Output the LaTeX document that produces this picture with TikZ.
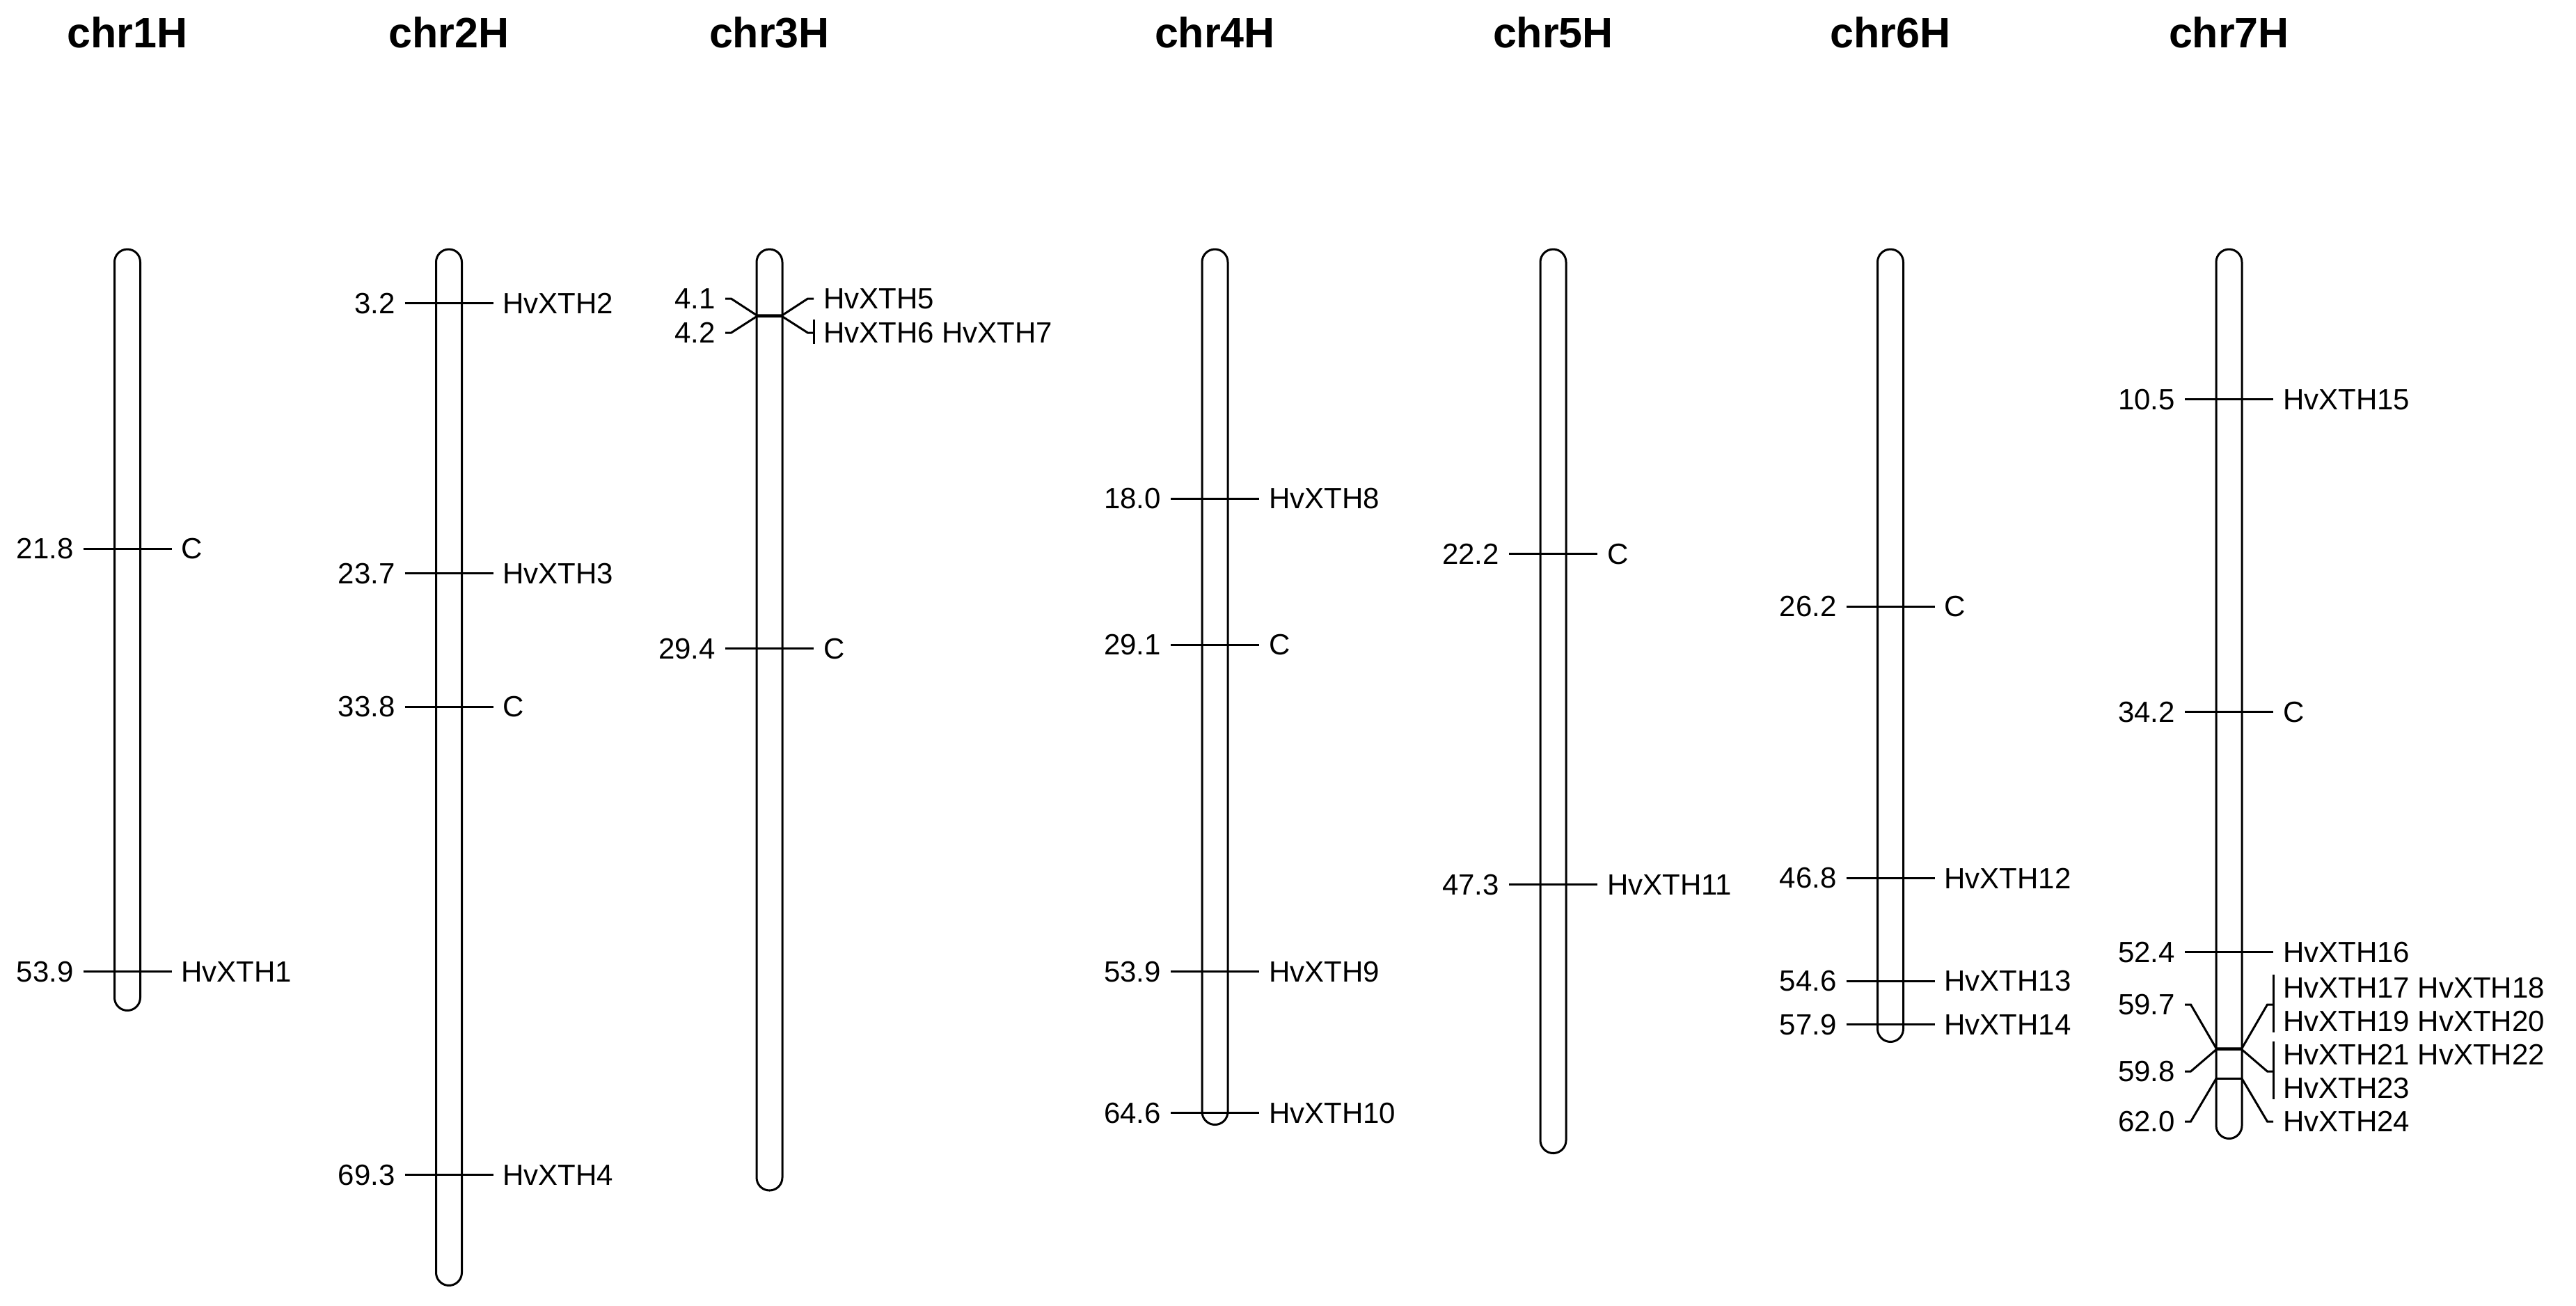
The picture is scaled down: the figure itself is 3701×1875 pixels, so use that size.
\documentclass[tikz,border=0pt]{standalone}
\usepackage{fontspec}
\setmainfont{Liberation Sans}
\newcommand{\chrmark}[5]{% name, cx, cM, left text, right text
  \path ({#2-63.5},{375.1+18.94*#3}) node[lab,anchor=east] (#1L) {#4}
        ({#2+63.5},{375.1+18.94*#3}) node[lab,anchor=west] (#1R) {#5};
  \draw[tick] (#1L.east) -- (#1R.west);
}
\begin{document}
\begin{tikzpicture}[x=0.5pt,y=-0.5pt,line width=1.5pt,
  lab/.style={font=\fontsize{21}{24}\selectfont, inner xsep=6.25pt, inner ysep=0pt},
  grp/.style={lab, align=left},
  ttl/.style={font=\fontsize{30.5}{36}\selectfont\bfseries, inner sep=0pt, anchor=base},
  chrom/.style={line width=1.5pt, rounded corners=9.25pt},
  tick/.style={line width=1.5pt, line join=miter}]
\useasboundingbox (0,0) rectangle (3701,1875);

% titles
\node[ttl] (t1) at (183,68) {chr1H};
\node[ttl] (t2) at (645,68) {chr2H};
\node[ttl] (t3) at (1105.5,68) {chr3H};
\node[ttl] (t4) at (1745.5,68) {chr4H};
\node[ttl] (t5) at (2231.5,68) {chr5H};
\node[ttl] (t6) at (2716,68) {chr6H};
\node[ttl] (t7) at (3202.5,68) {chr7H};

% chromosomes
\draw[chrom] (164.5,358) rectangle (201.5,1451.5);
\draw[chrom] (626.5,358) rectangle (663.5,1846.5);
\draw[chrom] (1087,358) rectangle (1124,1710);
\draw[chrom] (1727,358) rectangle (1764,1615.5);
\draw[chrom] (2213,358) rectangle (2250,1656.5);
\draw[chrom] (2697.5,358) rectangle (2734.5,1496.5);
\draw[chrom] (3184,358) rectangle (3221,1635.5);

% chr1H
\chrmark{a1}{183}{21.8}{21.8}{C}
\chrmark{a2}{183}{53.9}{53.9}{HvXTH1}
% chr2H
\chrmark{b1}{645}{3.2}{3.2}{HvXTH2}
\chrmark{b2}{645}{23.7}{23.7}{HvXTH3}
\chrmark{b3}{645}{33.8}{33.8}{C}
\chrmark{b4}{645}{69.3}{69.3}{HvXTH4}
% chr3H
\chrmark{c1}{1105.5}{29.4}{29.4}{C}
\node[lab,anchor=east] (c3a) at (1042,429) {4.1};
\node[lab,anchor=east] (c3b) at (1042,478) {4.2};
\node[lab,anchor=west] (c3c) at (1169,429) {HvXTH5};
\node[lab,anchor=west] (c3d) at (1169,478) {HvXTH6 HvXTH7};
\draw[tick] (c3a.east) -- (1050.5,429) -- (1087,452.75) -- (1124,452.75) -- (1160.5,429) -- (c3c.west);
\draw[tick] (c3b.east) -- (1050.5,478) -- (1087,454.65) -- (1124,454.65) -- (1160.5,478) -- (c3d.west);
\draw[tick] ([yshift=0pt]c3d.west) ++(0,-19) -- ++(0,35);
% chr4H
\chrmark{d1}{1745.5}{18.0}{18.0}{HvXTH8}
\chrmark{d2}{1745.5}{29.1}{29.1}{C}
\chrmark{d3}{1745.5}{53.9}{53.9}{HvXTH9}
\chrmark{d4}{1745.5}{64.6}{64.6}{HvXTH10}
% chr5H
\chrmark{e1}{2231.5}{22.2}{22.2}{C}
\chrmark{e2}{2231.5}{47.3}{47.3}{HvXTH11}
% chr6H
\chrmark{f1}{2716}{26.2}{26.2}{C}
\chrmark{f2}{2716}{46.8}{46.8}{HvXTH12}
\chrmark{f3}{2716}{54.6}{54.6}{HvXTH13}
\chrmark{f4}{2716}{57.9}{57.9}{HvXTH14}
% chr7H
\chrmark{g1}{3202.5}{10.5}{10.5}{HvXTH15}
\chrmark{g2}{3202.5}{34.2}{34.2}{C}
\chrmark{g3}{3202.5}{52.4}{52.4}{HvXTH16}
\node[lab,anchor=east] (g4L) at (3139,1443) {59.7};
\node[lab,anchor=east] (g5L) at (3139,1539) {59.8};
\node[lab,anchor=east] (g6L) at (3139,1611) {62.0};
\node[grp,anchor=west] (g4R) at (3266,1443) {HvXTH17 HvXTH18\\HvXTH19 HvXTH20};
\node[grp,anchor=west] (g5R) at (3266,1539) {HvXTH21 HvXTH22\\HvXTH23};
\node[lab,anchor=west] (g6R) at (3266,1611) {HvXTH24};
\draw[tick] (g4L.east) -- (3147.5,1443) -- (3184,1505.82) -- (3221,1505.82) -- (3257.5,1443) -- (g4R.west);
\draw[tick] (g5L.east) -- (3147.5,1539) -- (3184,1507.71) -- (3221,1507.71) -- (3257.5,1539) -- (g5R.west);
\draw[tick] (g6L.east) -- (3147.5,1611) -- (3184,1549.38) -- (3221,1549.38) -- (3257.5,1611) -- (g6R.west);
\draw[tick] (3266,1400) -- (3266,1483);
\draw[tick] (3266,1496) -- (3266,1579);
\end{tikzpicture}
\end{document}
